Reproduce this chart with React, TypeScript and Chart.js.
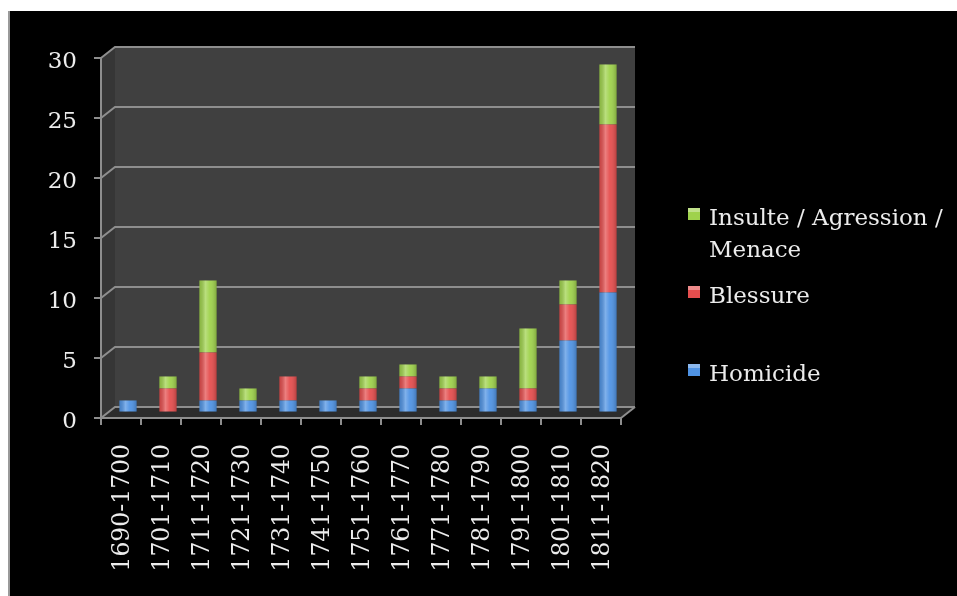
import React, { useEffect, useRef } from "react";
import { Chart, registerables } from "chart.js";

Chart.register(...registerables);

const categories = [
  "1690-1700", "1701-1710", "1711-1720", "1721-1730", "1731-1740", "1741-1750",
  "1751-1760", "1761-1770", "1771-1780", "1781-1790", "1791-1800", "1801-1810", "1811-1820",
];
const homicide = [1, 0, 1, 1, 1, 1, 1, 2, 1, 2, 1, 6, 10];
const blessure = [0, 2, 4, 0, 2, 0, 1, 1, 1, 0, 1, 3, 14];
const insulte = [0, 1, 6, 1, 0, 0, 1, 1, 1, 1, 5, 2, 5];
const seriesLabels = ["Homicide", "Blessure", "Insulte / Agression / Menace"];
const seriesColors = ["#4f93e4", "#e54e4e", "#9fd24c"];
const yMin = 0;
const yMax = 30;
const yStep = 5;

const FONT = "'DejaVu Serif', 'Liberation Serif', serif";
const DX = 14;
const DY = 11;

const wallPlugin = {
  id: "wall3d",
  beforeDraw(chart: any) {
    const { ctx, chartArea } = chart;
    const { left: L, right: R, top: T, bottom: B } = chartArea;
    ctx.save();
    ctx.fillStyle = "#000";
    ctx.fillRect(0, 0, chart.width, chart.height);
    ctx.fillStyle = "#363636";
    ctx.beginPath();
    ctx.moveTo(L, T);
    ctx.lineTo(L + DX, T - DY);
    ctx.lineTo(L + DX, B - DY);
    ctx.lineTo(L, B);
    ctx.closePath();
    ctx.fill();
    ctx.fillStyle = "#404040";
    ctx.fillRect(L + DX, T - DY, R - L, B - T);
    ctx.fillStyle = "#2c2c2c";
    ctx.beginPath();
    ctx.moveTo(L, B);
    ctx.lineTo(L + DX, B - DY);
    ctx.lineTo(R + DX, B - DY);
    ctx.lineTo(R, B);
    ctx.closePath();
    ctx.fill();
    const y = chart.scales.y;
    ctx.strokeStyle = "#8e8e8e";
    ctx.lineWidth = 2;
    for (let v = yMin; v <= yMax; v += yStep) {
      const py = y.getPixelForValue(v);
      ctx.beginPath();
      ctx.moveTo(L, py);
      ctx.lineTo(L + DX, py - DY);
      ctx.lineTo(R + DX, py - DY);
      ctx.stroke();
    }
    ctx.beginPath();
    ctx.moveTo(R, B);
    ctx.lineTo(R + DX, B - DY);
    ctx.stroke();
    ctx.restore();
  },
  beforeDatasetsDraw(chart: any) {
    chart.ctx.save();
    chart.ctx.translate(DX / 2, -DY / 2);
  },
  afterDatasetsDraw(chart: any) {
    const ctx = chart.ctx;
    chart.data.datasets.forEach((_: any, i: number) => {
      const meta = chart.getDatasetMeta(i);
      meta.data.forEach((el: any) => {
        const h = Math.abs(el.base - el.y);
        if (h < 0.5) return;
        const x0 = el.x - el.width / 2;
        const g = ctx.createLinearGradient(x0, 0, x0 + el.width, 0);
        g.addColorStop(0, "rgba(0,0,0,0.12)");
        g.addColorStop(0.35, "rgba(255,255,255,0.28)");
        g.addColorStop(0.6, "rgba(255,255,255,0.05)");
        g.addColorStop(1, "rgba(0,0,0,0.2)");
        ctx.fillStyle = g;
        ctx.fillRect(x0, Math.min(el.y, el.base), el.width, h);
      });
    });
    ctx.restore();
  },
};

const legendPlugin = {
  id: "sideLegend",
  afterDraw(chart: any) {
    const ctx = chart.ctx;
    const opts = chart.options.plugins.sideLegend;
    const ds = chart.data.datasets;
    const order = [2, 1, 0];
    ctx.save();
    ctx.font = `23px ${FONT}`;
    ctx.textBaseline = "alphabetic";
    order.forEach((di, k) => {
      const words = String(ds[di].label).split(" ");
      const lines: string[] = [];
      let cur = "";
      words.forEach((w) => {
        const t = cur ? cur + " " + w : w;
        if (ctx.measureText(t).width > opts.maxWidth && cur) {
          lines.push(cur);
          cur = w;
        } else cur = t;
      });
      if (cur) lines.push(cur);
      const base = opts.baselines[k];
      ctx.fillStyle = ds[di].backgroundColor;
      ctx.fillRect(opts.boxX, base - 17, 12, 12);
      ctx.fillStyle = "rgba(255,255,255,0.35)";
      ctx.fillRect(opts.boxX, base - 17, 12, 4);
      ctx.fillStyle = "#ececec";
      lines.forEach((ln, j) => ctx.fillText(ln, opts.textX, base + j * opts.lineHeight));
    });
    ctx.restore();
  },
};

export default function App() {
  const ref = useRef<HTMLCanvasElement | null>(null);
  useEffect(() => {
    if (!ref.current) return;
    const chart = new Chart(ref.current, {
      type: "bar",
      data: {
        labels: categories,
        datasets: [
          { label: seriesLabels[0], data: homicide, backgroundColor: seriesColors[0] },
          { label: seriesLabels[1], data: blessure, backgroundColor: seriesColors[1] },
          { label: seriesLabels[2], data: insulte, backgroundColor: seriesColors[2] },
        ],
      },
      plugins: [wallPlugin, legendPlugin],
      options: {
        responsive: false,
        animation: false,
        layout: { padding: { left: 0, right: 336, top: 47, bottom: 0 } },
        datasets: { bar: { barPercentage: 0.43, categoryPercentage: 1 } },
        plugins: {
          legend: { display: false },
          tooltip: { enabled: false },
          // @ts-ignore
          sideLegend: {
            textX: 699,
            boxX: 678,
            maxWidth: 245,
            lineHeight: 32,
            baselines: [214, 292, 370],
          },
        },
        scales: {
          x: {
            stacked: true,
            afterFit: (s: any) => { s.height = 178; },
            grid: { display: true, drawOnChartArea: false, tickLength: 7, color: "#8e8e8e", lineWidth: 2 },
            border: { display: true, color: "#8e8e8e", width: 2 },
            ticks: {
              color: "#ececec",
              font: { family: FONT, size: 23.5 },
              minRotation: 90,
              maxRotation: 90,
              autoSkip: false,
              padding: 19,
              labelOffset: 2,
            },
          },
          y: {
            stacked: true,
            min: yMin,
            max: yMax,
            afterFit: (s: any) => { s.width = 91; },
            grid: { display: true, drawOnChartArea: false, tickLength: 7, color: "#8e8e8e", lineWidth: 2 },
            border: { display: true, color: "#8e8e8e", width: 2 },
            ticks: {
              stepSize: yStep,
              color: "#ececec",
              font: { family: FONT, size: 23 },
              padding: 17,
              labelOffset: 4,
            },
          },
        },
      },
    });
    return () => chart.destroy();
  }, []);
  return (
    <div
      style={{
        position: "fixed",
        left: 8,
        top: 11,
        width: 949,
        height: 585,
        background: "#000",
        borderLeft: "2px solid #9a9a9a",
        boxSizing: "border-box",
      }}
    >
      <canvas ref={ref} width={947} height={585} style={{ display: "block" }} />
    </div>
  );
}
